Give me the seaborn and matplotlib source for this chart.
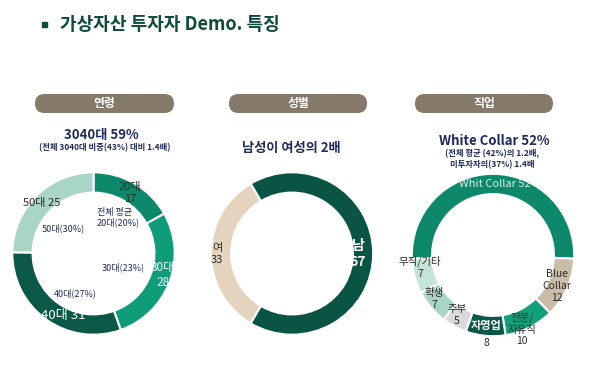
import matplotlib
matplotlib.use("Agg")
import matplotlib.pyplot as plt
import seaborn as sns
from matplotlib.patches import FancyBboxPatch, Rectangle

sns.set_theme(style="white")
plt.rcParams['font.family'] = ['Noto Sans CJK KR', 'DejaVu Sans']

# ---- data ----
age_labels = ['20대', '30대', '40대', '50대']
age_values = [17, 28, 31, 25]
age_colors = ['#0d886a', '#0f9d79', '#0a5845', '#a9d5c6']

gender_labels = ['여', '남']
gender_values = [33, 67]
gender_colors = ['#e4d4be', '#0a5443']

job_labels = ['White Collar', 'Blue Collar', '전문/자유직', '자영업', '주부', '학생', '무직/기타']
job_values = [52, 12, 10, 8, 5, 7, 7]
job_colors = ['#0d886a', '#c9bca8', '#12a07a', '#0a5845', '#dadada', '#a9d5c6', '#c5e4d9']

panel_titles = ['연령', '성별', '직업']

W, H = 600, 378
fig = plt.figure(figsize=(W / 100, H / 100), dpi=100)
bg = fig.add_axes([0, 0, 1, 1])
bg.set_xlim(0, W)
bg.set_ylim(H, 0)
bg.axis('off')

NAVY = '#1f2b5c'
DARK = '#2a2a2a'
PILL = '#857969'

R = 82
WIDTH = 0.25


def donut(cx, cy, values, colors, startangle, counterclock):
    ax = fig.add_axes([(cx - R) / W, 1 - (cy + R) / H, 2 * R / W, 2 * R / H])
    ax.pie(values, colors=colors, startangle=startangle, counterclock=counterclock,
           radius=1, wedgeprops=dict(width=WIDTH, edgecolor='white', linewidth=1.5))
    ax.set_xlim(-1.01, 1.01)
    ax.set_ylim(-1.01, 1.01)
    ax.set_aspect('equal')
    ax.axis('off')
    ax.patch.set_visible(False)
    return ax


g_start = 180 - gender_values[0] / sum(gender_values) * 180
j_start = 90 + job_values[0] / sum(job_values) * 180
donut(93.5, 253.5, age_values, age_colors, 90, False)
donut(292, 253.5, gender_values, gender_colors, g_start, True)
donut(493, 255, job_values, job_colors, j_start, False)

# overlay for all text, drawn above the donuts
top = fig.add_axes([0, 0, 1, 1])
top.set_xlim(0, W)
top.set_ylim(H, 0)
top.axis('off')
top.patch.set_visible(False)

# main title
top.add_patch(Rectangle((42, 22), 5, 5, color='#0d4b3b'))
top.text(60, 25, '가상자산 투자자 Demo. 특징', fontsize=13, fontweight='bold',
         color='#0d4b3b', va='center', ha='left')

# pills
pill_x = [(35, 174), (229, 367), (415, 553)]
for (x0, x1), t in zip(pill_x, panel_titles):
    top.add_patch(FancyBboxPatch((x0, 94), x1 - x0, 19,
                                 boxstyle='round,pad=0,rounding_size=9.5',
                                 facecolor=PILL, edgecolor='none'))
    top.text((x0 + x1) / 2, 103.5, t, color='white', fontsize=8.5,
             fontweight='bold', ha='center', va='center')

# ---- donut 1 texts ----
top.text(101, 135, '3040대 59%', color=NAVY, fontsize=9.5, fontweight='bold', ha='center', va='center')
top.text(105, 148, '(전체 3040대 비중(43%) 대비 1.4배)', color=NAVY, fontsize=6,
         fontweight='bold', ha='center', va='center')
top.text(130, 193, '20대\n17', color=DARK, fontsize=8, ha='center', va='center', linespacing=1.2)
top.text(42, 203, '50대 25', color=DARK, fontsize=8, ha='center', va='center')
top.text(163, 275, '30대\n28', color='white', fontsize=8.5, ha='center', va='center', linespacing=1.2)
top.text(63, 316, '40대 31', color='white', fontsize=9.5, ha='center', va='center')
top.text(97, 218, '전체 평균\n20대(20%)', color=NAVY, fontsize=6.5, ha='left', va='center',
         style='italic', linespacing=1.05)
top.text(63, 228, '50대(30%)', color=NAVY, fontsize=6.5, ha='center', va='center', style='italic')
top.text(123, 267, '30대(23%)', color=NAVY, fontsize=6.5, ha='center', va='center', style='italic')
top.text(75, 293, '40대(27%)', color=NAVY, fontsize=6.5, ha='center', va='center', style='italic')

# ---- donut 2 texts ----
top.text(291, 148, '남성이 여성의 2배', color=NAVY, fontsize=9.5, fontweight='bold',
         ha='center', va='center')
top.text(217, 254, '여\n33', color=DARK, fontsize=8, ha='center', va='center', linespacing=1.3)
top.text(358, 254, '남\n67', color='white', fontsize=10, ha='center', va='center',
         linespacing=1.2, fontweight='bold')

# ---- donut 3 texts ----
top.text(494, 141, 'White Collar 52%', color=NAVY, fontsize=9.5, fontweight='bold',
         ha='center', va='center')
top.text(492, 154, '(전체 평균 (42%)의 1.2배,', color=NAVY, fontsize=6, fontweight='bold',
         ha='center', va='center')
top.text(492, 165, '미투자자의(37%) 1.4배', color=NAVY, fontsize=6, fontweight='bold',
         ha='center', va='center')
top.text(495, 184, 'Whit Collar 52', color='#d9f1e7', fontsize=8, ha='center', va='center')
top.text(420, 267, '무직/기타\n7', color=DARK, fontsize=7.5, ha='center', va='center', linespacing=1.3)
top.text(434, 299, '학생\n7', color=DARK, fontsize=7.5, ha='center', va='center', linespacing=1.3)
top.text(457, 315, '주부\n5', color=DARK, fontsize=7.5, ha='center', va='center', linespacing=1.3)
top.text(486, 326, '자영업', color='white', fontsize=8, fontweight='bold', ha='center', va='center')
top.text(486, 343, '8', color=DARK, fontsize=7.5, ha='center', va='center')
top.text(522, 329, '전문/\n자유직\n10', color=DARK, fontsize=7.5, ha='center', va='center', linespacing=1.2)
top.text(557, 286, 'Blue\nCollar\n12', color=DARK, fontsize=7.5, ha='center', va='center', linespacing=1.2)

fig.savefig('out.png', dpi=100, facecolor='white')
